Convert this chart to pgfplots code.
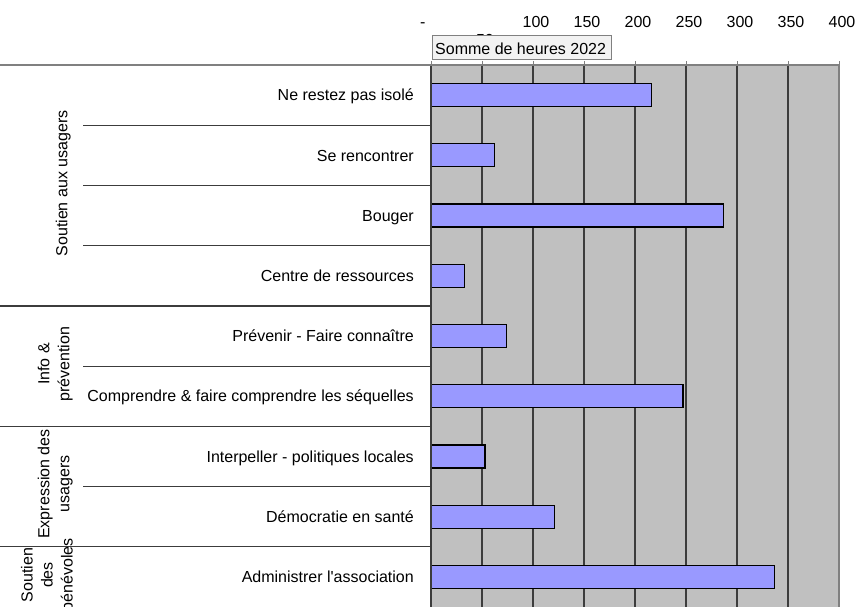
\documentclass[border=0pt]{standalone}
\usepackage{fontspec}
\setmainfont{Liberation Sans}
\usepackage{pgfplots}
\pgfplotsset{compat=1.18}
\definecolor{bgGrey}{HTML}{C0C0C0}
\definecolor{barBlue}{HTML}{9999FF}
\definecolor{gridDark}{HTML}{3C3C3C}
\definecolor{lineGrey}{HTML}{808080}
\definecolor{boxFill}{HTML}{F2F2F2}
\begin{document}
\begin{tikzpicture}[x=1pt,y=1pt,font=\fontsize{16}{20}\selectfont]
\useasboundingbox (0pt,-607pt) rectangle (856pt,0pt);
\clip (0pt,-607pt) rectangle (856pt,0pt);
\begin{axis}[
  scale only axis, width=408pt, height=542pt,
  at={(431pt,-607pt)}, anchor=south west,
  xmin=0, xmax=400, ymin=0.5, ymax=9.5, y dir=reverse,
  axis background/.style={fill=bgGrey},
  axis line style={draw=none},
  xtick={0,50,...,400},
  xticklabels={\makebox[0pt][r]{-\hspace{8.5pt}},\raisebox{-18.5pt}{50}\hspace{20pt},100,150,200,250,300,350,400},
  xtick pos=right, xticklabel pos=right,
  tick align=outside, major tick length=4pt,
  xtick style={lineGrey, line width=1pt},
  xticklabel style={anchor=base, yshift=34pt, xshift=3pt, inner sep=0pt, font=\fontsize{16}{20}\selectfont},
  ytick={1,...,9},
  yticklabels={Ne restez pas isolé, Se rencontrer, Bouger, Centre de ressources, Prévenir - Faire connaître, Comprendre \& faire comprendre les séquelles, Interpeller - politiques locales, Démocratie en santé, Administrer l\textquotesingle association},
  ytick style={draw=none},
  yticklabel style={anchor=base east, inner sep=0pt, xshift=-13pt, yshift=-5.7pt, font=\fontsize{16}{20}\selectfont},
  /pgf/number format/assume math mode=true,
  xmajorgrids, grid style={gridDark, line width=1.2pt},
  xbar, bar width=23pt,
]
\addplot[xbar, fill=barBlue, draw=black, line width=1.3pt] coordinates {
  (216,1) (62,2) (287,3) (33,4) (74,5) (247,6) (53,7) (121,8) (337,9)
};
\end{axis}
% frame lines
\draw[lineGrey, line width=1.3pt] (839pt,-65pt) -- (839pt,-607pt);
\draw[gridDark, line width=1.3pt] (431pt,-65pt) -- (431pt,-607pt);
\draw[lineGrey, line width=1.3pt] (0pt,-65pt) -- (839pt,-65pt);
% category separators
\foreach \yy in {125.2,185.4,245.7,366.1,486.6}{
  \draw[gridDark, line width=1.2pt] (83pt,-\yy pt) -- (431pt,-\yy pt);
}
\foreach \yy in {305.9,426.3,546.8}{
  \draw[gridDark, line width=1.2pt] (0pt,-\yy pt) -- (431pt,-\yy pt);
}
% group labels
\node[rotate=90, anchor=south, inner sep=0pt, align=center] at (71pt,-183.5pt) {Soutien aux usagers};
\node[rotate=90, anchor=south, inner sep=0pt, align=center] at (73pt,-364pt) {Info \&\\prévention};
\node[rotate=90, anchor=south, inner sep=0pt, align=center] at (73pt,-484pt) {Expression des\\usagers};
\node[rotate=90, anchor=south, inner sep=0pt, align=center] at (73pt,-575pt) {Soutien\\des\\bénévoles};
% field button
\draw[lineGrey, fill=boxFill, line width=1pt] (432pt,-36pt) rectangle (611pt,-60pt);
\node[anchor=base west, inner sep=0pt] at (435pt,-55pt) {Somme de heures 2022};
\end{tikzpicture}
\end{document}
